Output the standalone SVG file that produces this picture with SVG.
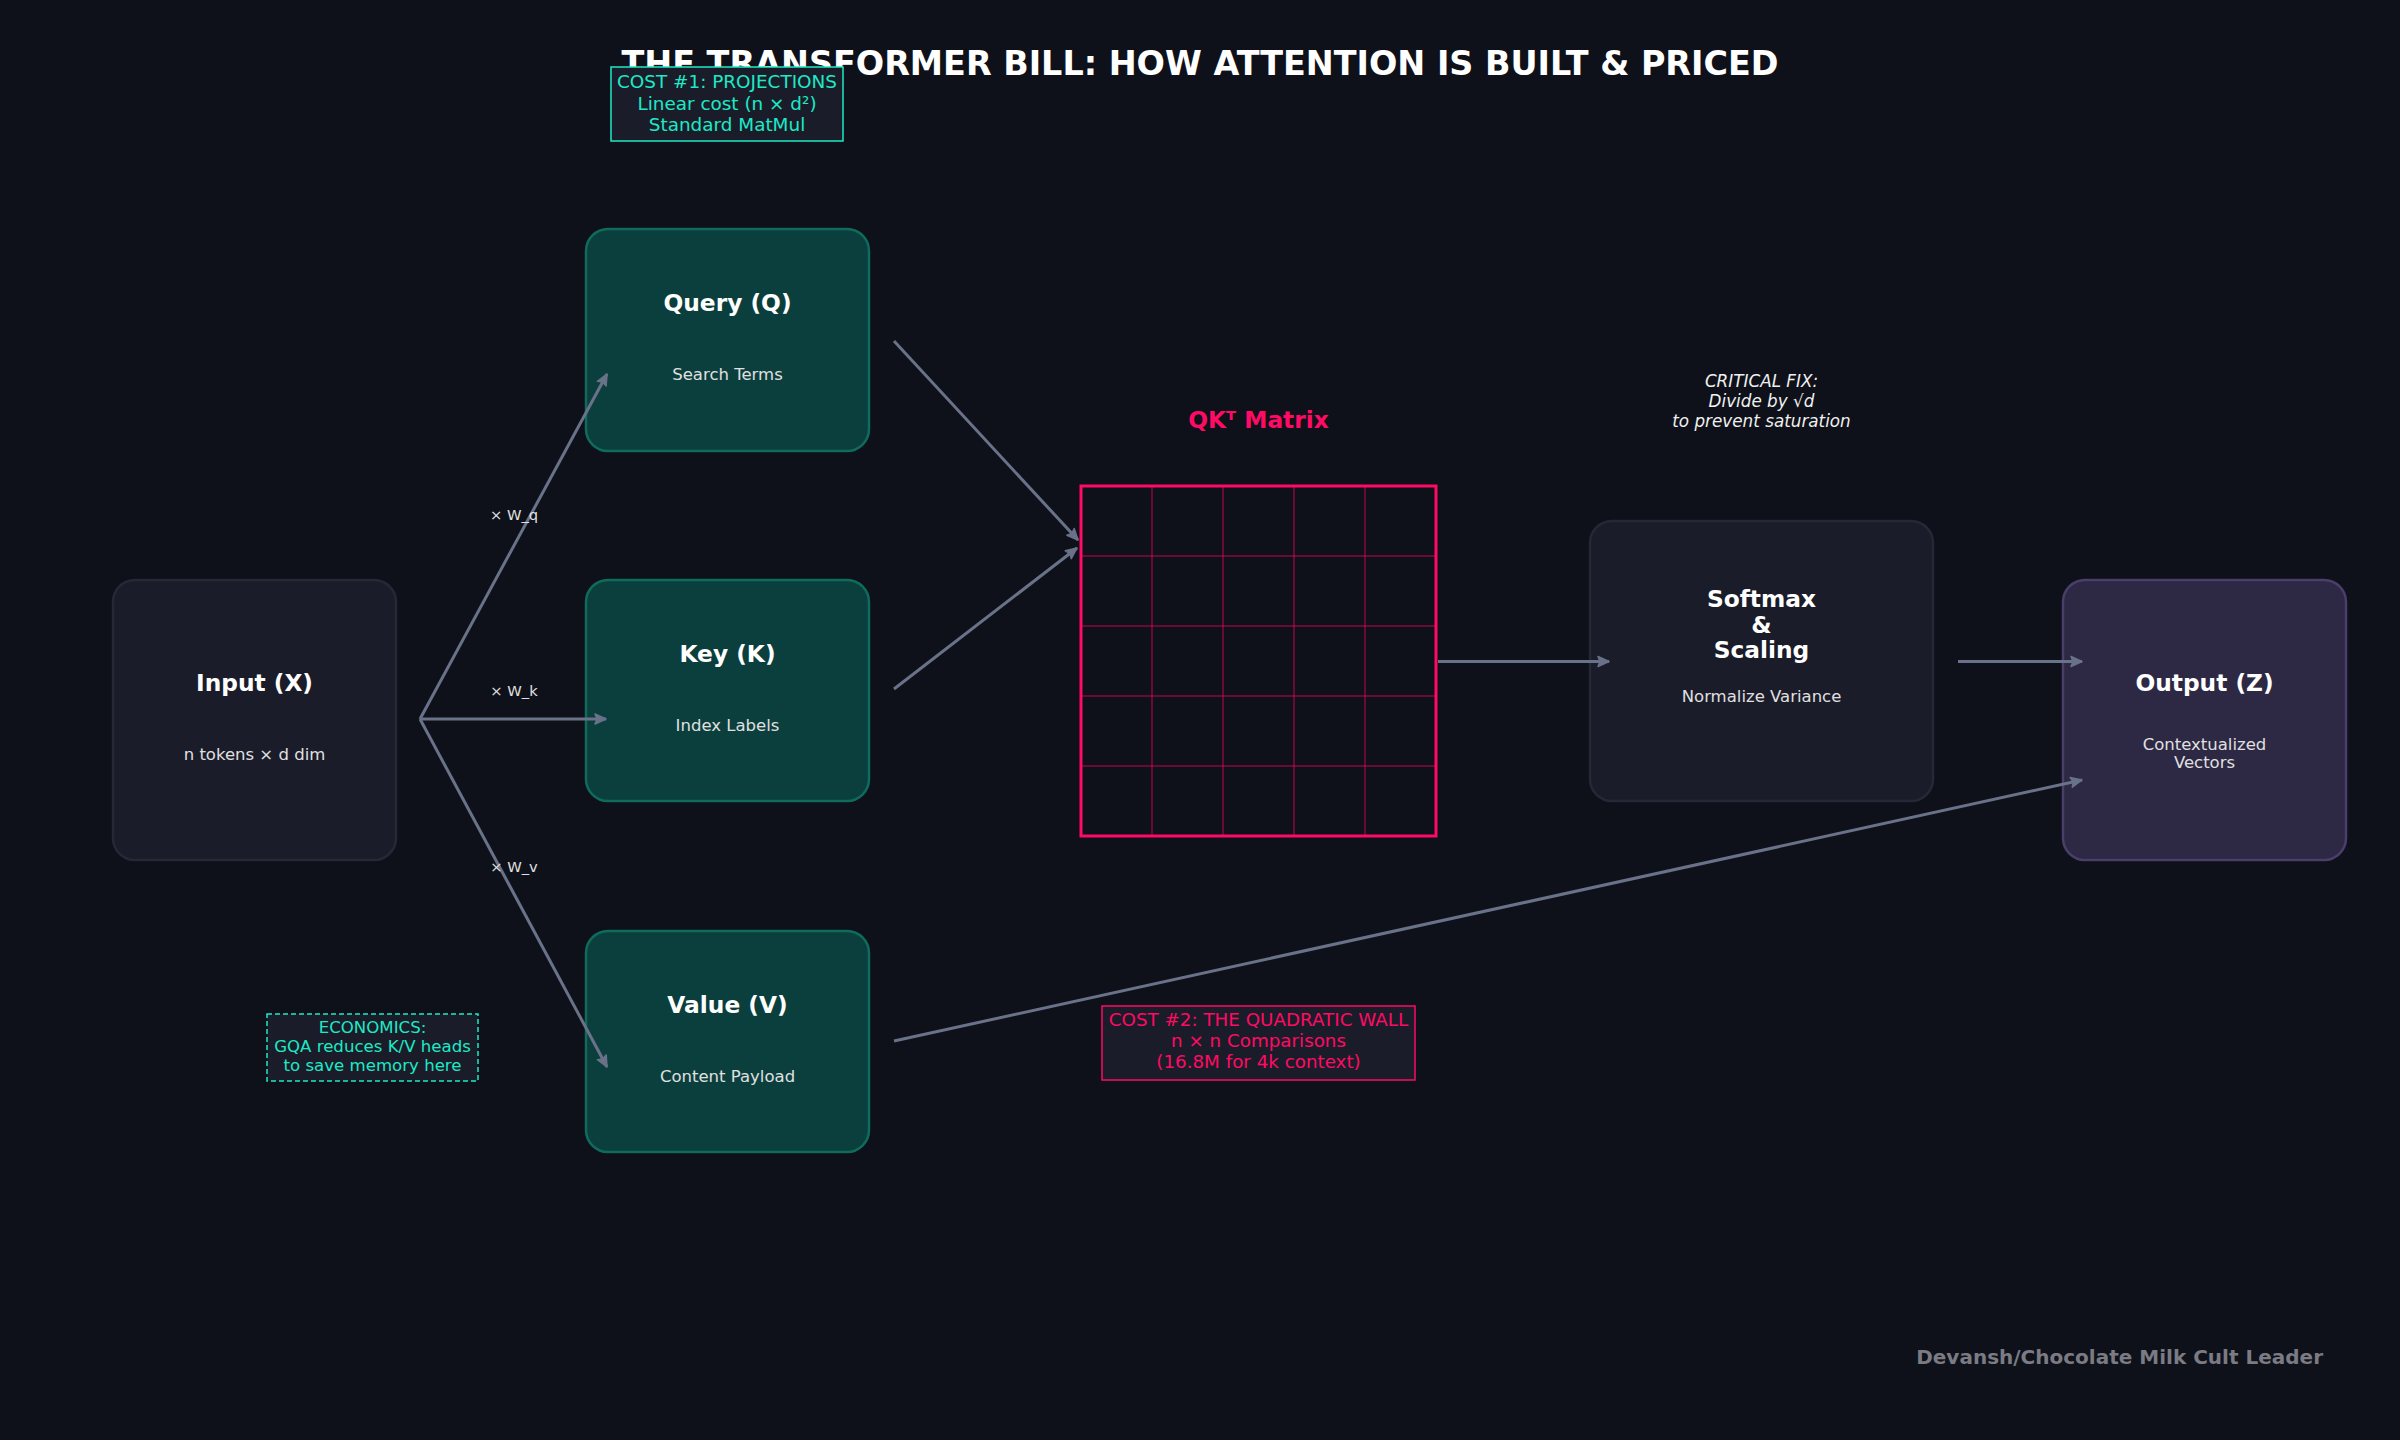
<svg xmlns="http://www.w3.org/2000/svg" width="2400" height="1440" viewBox="0 0 2400 1440">
<defs>
<style>
text{font-family:"DejaVu Sans","Liberation Sans",sans-serif;}
.title{font-size:33.4px;font-weight:bold;fill:#ffffff;text-anchor:middle;}
.nt{font-size:23.3px;font-weight:bold;fill:#ffffff;text-anchor:middle;}
.ns{font-size:16.5px;fill:#e0e0e0;text-anchor:middle;}
.lbl{font-size:14.7px;fill:#e0e0e0;text-anchor:middle;}
.teal{fill:#0b3f3d;stroke:#0f6b5b;stroke-width:2.5;}
.dark{fill:#1b1c29;stroke:#262837;stroke-width:2.5;}
.purple{fill:#2d2843;stroke:#4a3f6a;stroke-width:2.5;}
.conn{stroke:#6a7289;stroke-width:3;fill:none;marker-end:url(#ah);}
.grid{stroke:#ff0066;stroke-opacity:0.38;stroke-width:2;}
.tealtxt{font-size:18.4px;fill:#1de9c6;text-anchor:middle;}
.pinktxt{font-size:18.3px;fill:#ff0a64;text-anchor:middle;}
</style>
<marker id="ah" viewBox="-2 -2 16 14" refX="11" refY="5" markerWidth="16" markerHeight="14" markerUnits="userSpaceOnUse" orient="auto">
<path d="M0,0 L11,5 L0,10 L2,5 Z" fill="#6a7289" stroke="#6a7289" stroke-width="1.5" stroke-linejoin="round"/>
</marker>
</defs>
<rect x="0" y="0" width="2400" height="1440" fill="#0e1119"/>
<text class="title" x="1200" y="75">THE TRANSFORMER BILL: HOW ATTENTION IS BUILT &amp; PRICED</text>

<g id="input">
<rect class="dark" x="113" y="580" width="283" height="280" rx="22"/>
<text class="nt" x="254.5" y="691">Input (X)</text>
<text class="ns" x="254.5" y="760">n tokens × d dim</text>
</g>

<g id="query">
<rect class="teal" x="586" y="229" width="283" height="222" rx="22"/>
<text class="nt" x="727.5" y="311">Query (Q)</text>
<text class="ns" x="727.5" y="380">Search Terms</text>
</g>

<g id="key">
<rect class="teal" x="586" y="580" width="283" height="221" rx="22"/>
<text class="nt" x="727.5" y="662">Key (K)</text>
<text class="ns" x="727.5" y="731">Index Labels</text>
</g>

<g id="value">
<rect class="teal" x="586" y="931" width="283" height="221" rx="22"/>
<text class="nt" x="727.5" y="1013">Value (V)</text>
<text class="ns" x="727.5" y="1082">Content Payload</text>
</g>

<g id="matrix">
<text class="nt" x="1258.5" y="428" style="fill:#ff0a64">QKᵀ Matrix</text>
<line class="grid" x1="1152" y1="487" x2="1152" y2="835"/>
<line class="grid" x1="1223" y1="487" x2="1223" y2="835"/>
<line class="grid" x1="1294" y1="487" x2="1294" y2="835"/>
<line class="grid" x1="1365" y1="487" x2="1365" y2="835"/>
<line class="grid" x1="1082" y1="556" x2="1435" y2="556"/>
<line class="grid" x1="1082" y1="626" x2="1435" y2="626"/>
<line class="grid" x1="1082" y1="696" x2="1435" y2="696"/>
<line class="grid" x1="1082" y1="766" x2="1435" y2="766"/>
<rect x="1081" y="486" width="355" height="350" fill="none" stroke="#ff0a64" stroke-width="3"/>
</g>

<g id="softmax">
<rect class="dark" x="1590" y="521" width="343" height="280" rx="22"/>
<text class="nt" x="1761.5" y="607">Softmax</text>
<text class="nt" x="1761.5" y="633">&amp;</text>
<text class="nt" x="1761.5" y="658">Scaling</text>
<text class="ns" x="1761.5" y="702">Normalize Variance</text>
</g>

<g id="output">
<rect class="purple" x="2063" y="580" width="283" height="280" rx="22"/>
<text class="nt" x="2204.5" y="691">Output (Z)</text>
<text class="ns" x="2204.5" y="750">Contextualized</text>
<text class="ns" x="2204.5" y="768">Vectors</text>
</g>

<g id="connectors">
<line class="conn" x1="420" y1="719" x2="607" y2="374"/>
<line class="conn" x1="420" y1="719" x2="606" y2="719"/>
<line class="conn" x1="420" y1="719" x2="607" y2="1067"/>
<line class="conn" x1="894" y1="341" x2="1078" y2="540"/>
<line class="conn" x1="894" y1="689" x2="1077" y2="548"/>
<line class="conn" x1="1438" y1="661.5" x2="1609" y2="661.5"/>
<line class="conn" x1="1958" y1="661.5" x2="2082" y2="661.5"/>
<line class="conn" x1="894" y1="1041" x2="2082" y2="780"/>
<text class="lbl" x="514" y="520">× W_q</text>
<text class="lbl" x="514" y="696">× W_k</text>
<text class="lbl" x="514" y="872">× W_v</text>
</g>

<g id="note-critical">
<text x="1761.5" y="387" font-size="16.8" font-style="italic" fill="#f0f0f0" text-anchor="middle">CRITICAL FIX:</text>
<text x="1761.5" y="407" font-size="16.8" font-style="italic" fill="#f0f0f0" text-anchor="middle">Divide by √d</text>
<text x="1761.5" y="427" font-size="16.8" font-style="italic" fill="#f0f0f0" text-anchor="middle">to prevent saturation</text>
</g>

<g id="cost1">
<rect x="611" y="67" width="232" height="74" fill="#1b1c29" stroke="#1de9c6" stroke-width="1.5"/>
<text class="tealtxt" x="727" y="88">COST #1: PROJECTIONS</text>
<text class="tealtxt" x="727" y="110">Linear cost (n × d²)</text>
<text class="tealtxt" x="727" y="131">Standard MatMul</text>
</g>

<g id="cost2">
<rect x="1102" y="1006" width="313" height="74" fill="#1b1c29" stroke="#ff0a64" stroke-width="1.5"/>
<text class="pinktxt" x="1258.5" y="1026">COST #2: THE QUADRATIC WALL</text>
<text class="pinktxt" x="1258.5" y="1047">n × n Comparisons</text>
<text class="pinktxt" x="1258.5" y="1068">(16.8M for 4k context)</text>
</g>

<g id="economics">
<rect x="267" y="1014" width="211" height="67" fill="#1b1c29" stroke="#1de9c6" stroke-width="1.5" stroke-dasharray="5,3"/>
<text x="372.5" y="1033" font-size="16.6" fill="#1de9c6" text-anchor="middle">ECONOMICS:</text>
<text x="372.5" y="1052" font-size="16.6" fill="#1de9c6" text-anchor="middle">GQA reduces K/V heads</text>
<text x="372.5" y="1071" font-size="16.6" fill="#1de9c6" text-anchor="middle">to save memory here</text>
</g>

<text x="2323" y="1364" font-size="20" font-weight="bold" fill="#7a7b83" text-anchor="end">Devansh/Chocolate Milk Cult Leader</text>
</svg>
